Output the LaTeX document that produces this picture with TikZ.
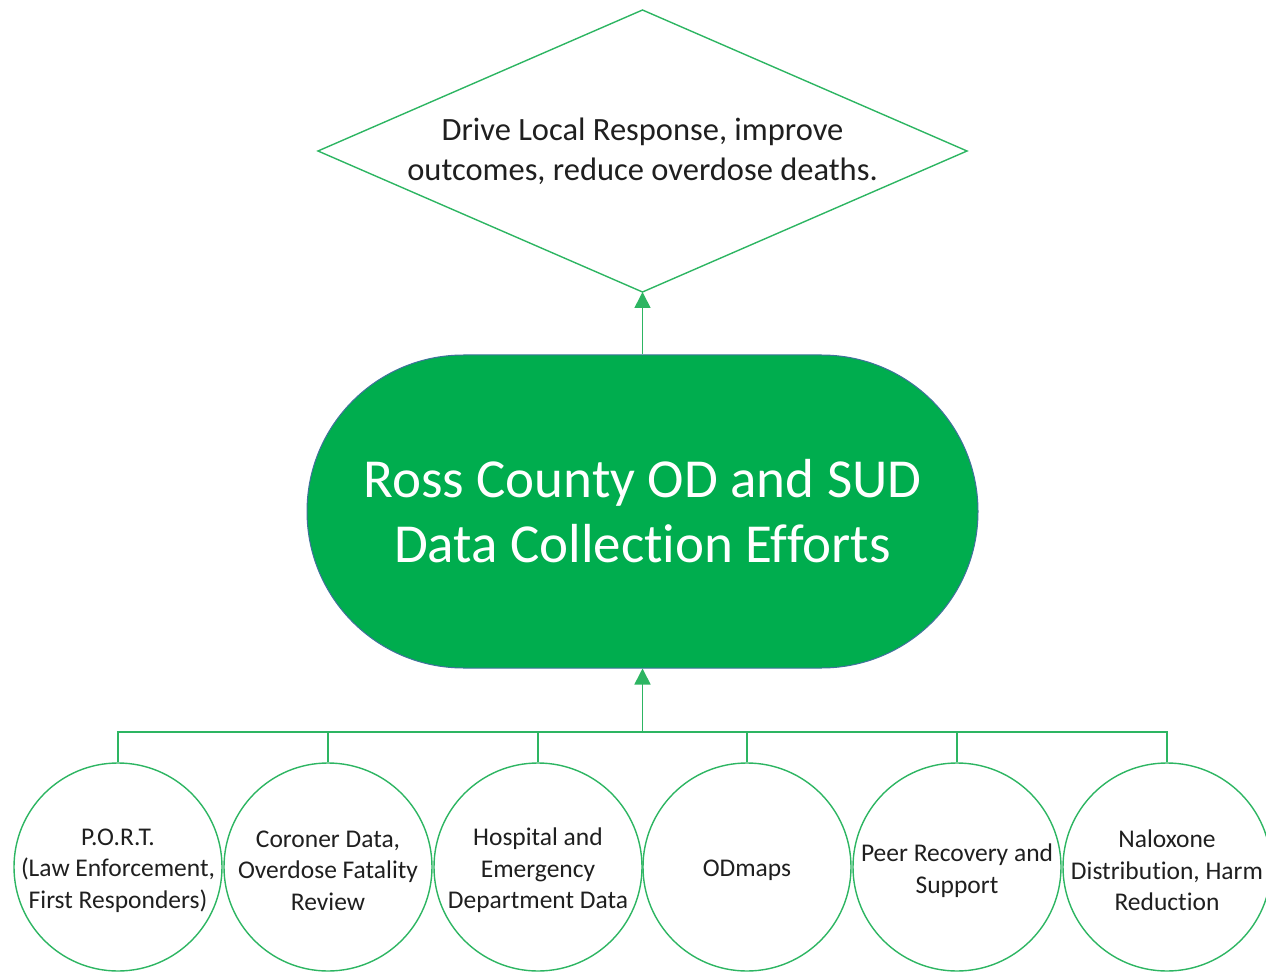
\documentclass[tikz,border=0pt]{standalone}
\usepackage{fontspec}
\setmainfont[Ligatures=NoCommon]{Carlito}
\usetikzlibrary{shapes.misc,arrows.meta}
\definecolor{lgreen}{HTML}{2DB562}
\definecolor{dgreen}{HTML}{00AD4E}
\definecolor{bord}{HTML}{41719C}
\definecolor{txt}{HTML}{1F1F1F}
\begin{document}
\begin{tikzpicture}[x=1pt,y=-1pt,
  conn/.style={draw=lgreen, line width=1.6pt},
  tip/.style={-{Triangle[width=16pt,length=16pt]}},
  srctext/.style={inner sep=0pt, align=center, text=txt, font=\fontsize{25.5}{31.5}\selectfont, yshift=-3.5pt},
  src/.style={circle, draw=lgreen, line width=1.4pt, minimum size=208pt, inner sep=0pt, label={[srctext]center:#1}},
  goaltext/.style={inner sep=0pt, align=center, text=txt, font=\fontsize{32.5}{40}\selectfont},
  goalline/.style={draw=lgreen, line width=1.4pt},
  hub/.style={rounded rectangle, fill=dgreen, draw=bord, line width=1pt, minimum width=671pt, minimum height=313pt, inner sep=0pt, align=center, text=white, font=\fontsize{55}{65}\selectfont}
]
\useasboundingbox (0,0) rectangle (1266,973);
\node[goaltext] (goal) at (642.5,151.5) {Drive Local Response, improve\\outcomes, reduce overdose deaths.};
\coordinate (gtop) at (642.5,10);
\coordinate (gbot) at (642.5,292);
\coordinate (gleft) at (318,151);
\coordinate (gright) at (967,151);
\draw[goalline] (gtop) -- (gright) -- (gbot) -- (gleft) -- cycle;
\node[hub] (hub) at (642.5,511.5) {Ross County OD and SUD\\Data Collection Efforts};
\node[src={P.O.R.T.\\(Law Enforcement,\\First Responders)}] (c1) at (118,867) {};
\node[src={Coroner Data,\\Overdose Fatality\\Review}] (c2) at (328,867) {};
\node[src={Hospital and\\Emergency\\Department Data}] (c3) at (538,867) {};
\node[src={ODmaps}] (c4) at (747,867) {};
\node[src={Peer Recovery and\\Support}] (c5) at (957,867) {};
\node[src={Naloxone\\Distribution, Harm\\Reduction}] (c6) at (1167,867) {};
\coordinate (bus) at (642.5,732);
\draw[conn] (c1.north) |- (bus) -| (c6.north);
\foreach \c in {c2,c3,c4,c5} \draw[conn] (\c.north) -- (\c.north |- bus);
\draw[conn,tip] (bus) -- (hub.south);
\draw[conn,tip] (hub.north) -- (gbot);
\end{tikzpicture}
\end{document}
